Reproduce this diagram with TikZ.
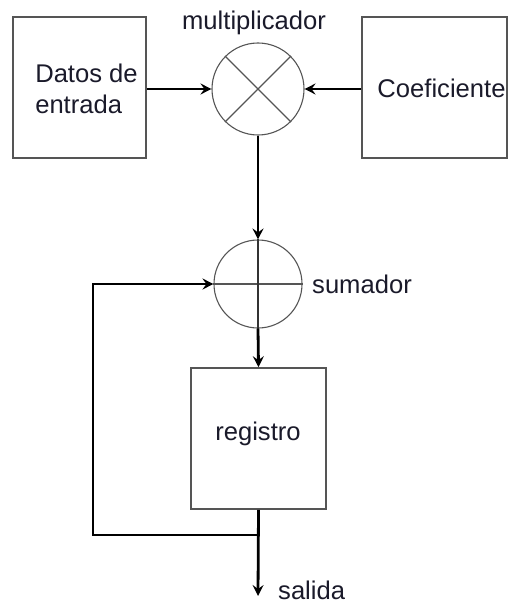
\documentclass[tikz,border=0pt]{standalone}
\usepackage{fontspec}
\setmainfont{Liberation Sans}
\usetikzlibrary{arrows.meta}
\definecolor{edge}{HTML}{555555}
\definecolor{txt}{HTML}{1A1A2A}
\begin{document}
\begin{tikzpicture}[x=1bp,y=-1bp,
  every node/.style={font=\fontsize{25.6bp}{31bp}\selectfont, text=txt, inner sep=0pt},
  blockbox/.style={draw=edge, line width=1.6bp, rectangle, minimum width=#1},
  opcirc/.style={draw=edge, line width=1.1bp, circle, minimum size=#1},
  conn/.style={line width=2.8bp, black},
  arr/.style={conn, -{Stealth[length=11bp,width=11bp,inset=4bp]}}
]
\useasboundingbox (0,0) rectangle (509,606);
% blocks
\node[blockbox=133bp, minimum height=141bp] (datos) at (79.5,87.5) {};
\node[align=left, anchor=center] (datost) at (86.5,89) {Datos de\\entrada};
\node[blockbox=145bp, minimum height=141bp] (coef) at (434.5,87.5) {};
\node (coeft) at (441.5,88) {Coeficiente};
\node[blockbox=135bp, minimum height=141bp] (reg) at (258.5,438.5) {};
\node (regt) at (258,434) {registro};
% operators
\node[opcirc=92bp] (mult) at (258,89) {};
\draw[edge, line width=1.1bp] (mult.north west) -- (mult.south east)
  (mult.north east) -- (mult.south west);
\node[opcirc=88bp] (sum) at (258,284) {};
\draw[edge, line width=1.1bp] (sum.west) -- (sum.east);
\draw[black!80, line width=1.4bp] (sum.north) -- (sum.south);
% labels
\node (multl) at (254,23) {multiplicador};
\node[anchor=west] (suml) at (312,284) {sumador};
% coordinates
\coordinate (junc) at (258,535);
\coordinate (cornb) at (93,535);
\coordinate (cornt) at (93,284);
\coordinate (outend) at (258,596);
\node[anchor=base west] (sal) at (278,599) {salida};
% connectors
\draw[arr] (datos.east |- mult.west) -- (mult.west);
\draw[arr] (coef.west |- mult.east) -- (mult.east);
\draw[arr] (mult.south) -- (sum.north);
\draw[arr] (sum.south) -- (reg.north);
\draw[arr] (reg.south) -- (outend);
\draw[arr] (junc) -- (cornb) -- (cornt) -- (sum.west);
\end{tikzpicture}
\end{document}
